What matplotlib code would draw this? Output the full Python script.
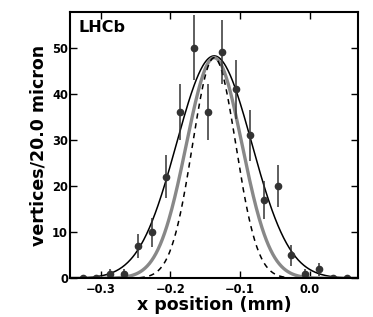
import numpy as np
import matplotlib
matplotlib.use("Agg")
import matplotlib.pyplot as plt

# bin centres (mm) and vertex counts per 20 micron bin
x_pos = [-0.326, -0.306, -0.286, -0.266, -0.246, -0.226, -0.206, -0.186, -0.166, -0.146,
         -0.126, -0.106, -0.086, -0.066, -0.046, -0.026, -0.006, 0.014, 0.034, 0.054]
counts = [0, 0, 1, 1, 7, 10, 22, 36, 50, 36, 49, 41, 31, 17, 20, 5, 1, 2, 0, 0]

# gaussian curves: (amplitude, mean, sigma)
fit_black = (48.2, -0.137, 0.054)
fit_grey = (47.8, -0.137, 0.040)
fit_dashed = (47.8, -0.137, 0.031)

x_ticks = [-0.3, -0.2, -0.1, 0.0]
y_ticks = [0, 10, 20, 30, 40, 50]


def gauss(x, p):
    a, mu, sig = p
    return a * np.exp(-0.5 * ((x - mu) / sig) ** 2)


plt.rcParams["font.family"] = "DejaVu Sans"
plt.rcParams["font.weight"] = "bold"

fig = plt.figure(figsize=(3.73, 3.17), dpi=100)
ax = fig.add_axes([0.1877, 0.1221, 0.9598 - 0.1877, 0.9606 - 0.1221])

xs = np.linspace(-0.344, 0.0695, 400)
ax.plot(xs, gauss(xs, fit_black), color="black", lw=1.1)
ax.plot(xs, gauss(xs, fit_grey), color="#888888", lw=2.4)
ax.plot(xs, gauss(xs, fit_dashed), color="black", lw=1.1, ls=(0, (3.5, 3)))

y = np.array(counts, dtype=float)
ax.errorbar(x_pos, y, yerr=np.sqrt(y), fmt="o", color="#333333", ms=4.5,
            elinewidth=1.1, capsize=0)

ax.set_xlim(-0.344, 0.0695)
ax.set_ylim(0, 57.6)
ax.set_xticks(x_ticks)
ax.set_yticks(y_ticks)
ax.set_xticklabels(["\u22120.3", "\u22120.2", "\u22120.1", "0.0"])
ax.tick_params(direction="in", top=True, right=True, length=5, width=1,
               labelsize=8.3)
ax.tick_params(axis="x", pad=3.5)
ax.tick_params(axis="y", pad=1.5)
for lab in ax.get_xticklabels() + ax.get_yticklabels():
    lab.set_fontweight("bold")
for s in ax.spines.values():
    s.set_linewidth(1.5)

ax.set_xlabel("x position (mm)", fontsize=12.5, fontweight="bold", labelpad=0)
ax.set_ylabel("vertices/20.0 micron", fontsize=12.5, fontweight="bold", labelpad=3)
ax.text(0.03, 0.97, "LHCb", transform=ax.transAxes, ha="left", va="top",
        fontsize=11.5, fontweight="bold")

fig.savefig("out.png", dpi=100)
